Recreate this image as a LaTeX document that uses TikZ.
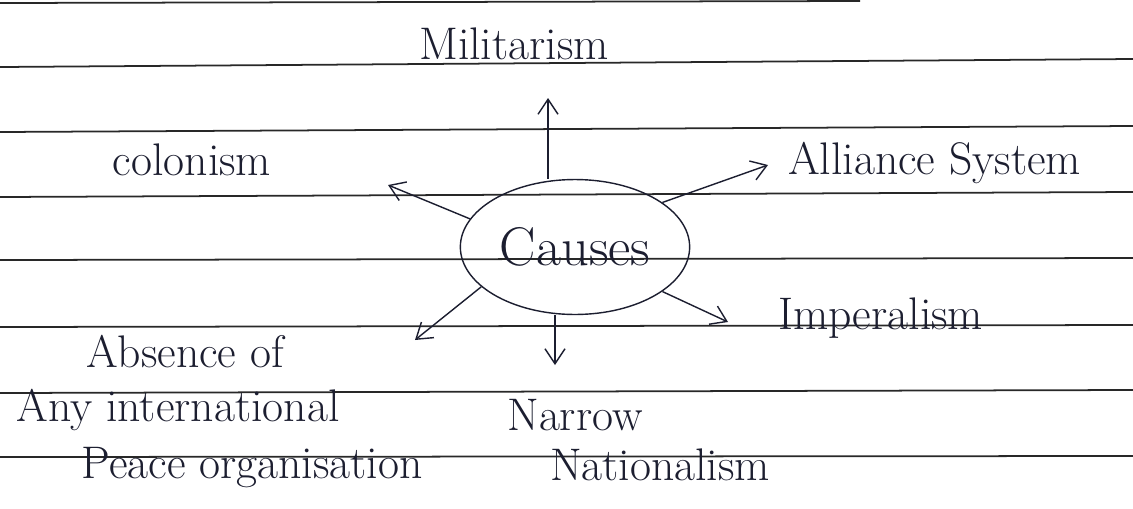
\documentclass[tikz,border=0pt]{standalone}
\usepackage{tikz}
\usetikzlibrary{shapes.geometric,arrows.meta}
\definecolor{inkblue}{RGB}{28,30,48}
\definecolor{ruleline}{RGB}{40,40,40}

\begin{document}
\begin{tikzpicture}[x=0.02cm,y=-0.02cm]

%
% Styles
%
\tikzstyle{cause} = [font=\fontsize{26}{30}\selectfont,text=inkblue]
\tikzstyle{hub} = [ellipse,draw=inkblue,thick,minimum width=4.52cm,minimum height=2.7cm,font=\fontsize{31}{34}\selectfont,text=inkblue]
\tikzstyle{arrow} = [draw=inkblue,thick,-{Straight Barb[length=3mm,width=4mm]}]

\useasboundingbox (0,0) rectangle (1133,508);
\fill[white] (0,0) rectangle (1133,508);

% ruled paper
\draw[ruleline,line width=1pt] (0,3) -- (860,1);
\foreach \ya/\yb in {67/59,132/126,197/192,260/258,327/325,393/390,457/456}
  \draw[ruleline,line width=1pt] (0,\ya) -- (1133,\yb);

\node[hub] (causes) at (575,247) {Causes};

\node[cause] (mil) at (514,44) {Militarism};
\node[cause] (col) at (192,160) {colonism};
\node[cause,anchor=west] (all) at (782,163) {Alliance System};
\node[cause,anchor=west] (imp) at (772,318) {Imperalism};
\node[cause] (abs1) at (185,352) {Absence of};
\node[cause] (abs2) at (178,410) {Any international};
\node[cause] (abs3) at (252,468) {Peace organisation};
\node[cause] (nar1) at (575,415) {Narrow};
\node[cause] (nar2) at (660,465) {Nationalism};

\coordinate (milend) at (548,98);
\coordinate (colend) at (388,185);
\coordinate (allend) at (768,165);
\coordinate (absend) at (415,340);
\coordinate (impend) at (728,322);
\coordinate (natend) at (555,365);

\draw[arrow] (causes.north -| milend) -- (milend);
\draw[arrow] (causes.165) -- (colend);
\draw[arrow] (causes.27) -- (allend);
\draw[arrow] (causes.203) -- (absend);
\draw[arrow] (causes.333) -- (impend);
\draw[arrow] (causes.south -| natend) -- (natend);

\end{tikzpicture}
\end{document}
